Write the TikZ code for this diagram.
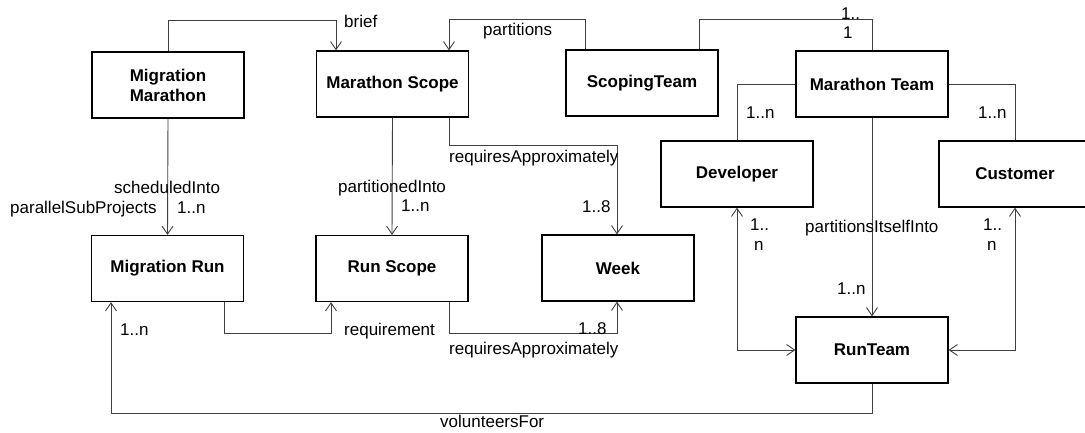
\documentclass[tikz,border=0pt]{standalone}
\usepackage{fontspec}
\setmainfont{Liberation Sans}
\usetikzlibrary{arrows.meta}
\begin{document}
\begin{tikzpicture}[x=1pt,y=-1pt,
  font=\fontsize{17}{19.5}\selectfont,
  box/.style={draw=black, line width=1.3pt, minimum width=152pt, minimum height=66pt,
    inner sep=0pt, align=center, font=\fontsize{17}{20}\selectfont\bfseries},
  conn/.style={draw=black!75, line width=0.9pt},
  tip/.style={-{Straight Barb[length=8pt,width=11pt,line width=0.9pt]}},
  bitip/.style={{Straight Barb[length=8pt,width=11pt,line width=0.9pt]}-{Straight Barb[length=8pt,width=11pt,line width=0.9pt]}},
  lbl/.style={inner sep=0pt, anchor=base west}]
\useasboundingbox (0,0) rectangle (1085,432);
\clip (0,0) rectangle (1085,432);
% boxes
\node[box] (mm) at (168,85) {Migration\\Marathon};
\node[box] (ms) at (392.5,84) {Marathon Scope};
\node[box] (st) at (642,83) {ScopingTeam};
\node[box] (mt) at (872,84) {Marathon Team};
\node[box] (dev) at (737,174) {Developer};
\node[box] (cust) at (1015,174) {Customer};
\node[box] (mr) at (167.5,268.5) {Migration Run};
\node[box] (rs) at (392,268.5) {Run Scope};
\node[box] (wk) at (618,268) {Week};
\node[box] (rt) at (872,350) {RunTeam};
% connectors
\draw[conn,tip] (mm.north) |- (336,20) -- (336,20 |- ms.north);
\draw[conn,tip] (585,0 |- st.north) |- (449,19) -- (449,19 |- ms.north);
\draw[conn] (699,0 |- st.north) |- (872,19) -- (mt.north);
\draw[conn] (mt.west) -| (dev.north);
\draw[conn] (mt.east) -| (cust.north);
\draw[conn,tip] (mt.south) -- (rt.north);
\draw[conn,bitip] (dev.south) |- (rt.west);
\draw[conn,bitip] (cust.south) |- (rt.east);
\draw[conn,tip] (mm.south) -- (mr.north);
\draw[conn,tip] (ms.south) -- (rs.north);
\draw[conn,tip] (449,0 |- ms.south) |- (617,145) -- (617,145 |- wk.north);
\draw[conn,tip] (224,0 |- mr.south) |- (331,333) -- (331,333 |- rs.south);
\draw[conn,tip] (449,0 |- rs.south) |- (617,333) -- (617,333 |- wk.south);
\draw[conn,tip] (rt.south) |- (111,413) -- (111,413 |- mr.south);
% labels
\node[lbl] (l1) at (344,27) {brief};
\node[lbl] (l2) at (483,35) {partitions};
\node[lbl] (l3) at (841,19) {1..};
\node[lbl] (l4) at (843,38) {1};
\node[lbl] (l5) at (746,118) {1..n};
\node[lbl] (l6) at (978,118) {1..n};
\node[lbl] (l7) at (805,232) {partitionsItselfInto};
\node[lbl] (l8) at (837,294) {1..n};
\node[lbl] (l9) at (750,230) {1..};
\node[lbl] (l10) at (754,250) {n};
\node[lbl] (l11) at (983,230) {1..};
\node[lbl] (l12) at (987,250) {n};
\node[lbl] (l13) at (114,193) {scheduledInto};
\node[lbl] (l14) at (10,213) {parallelSubProjects};
\node[lbl] (l15) at (177,213) {1..n};
\node[lbl] (l16) at (338,192) {partitionedInto};
\node[lbl] (l17) at (401,211) {1..n};
\node[lbl] (l18) at (449,162) {requiresApproximately};
\node[lbl] (l19) at (582,212) {1..8};
\node[lbl] (l20) at (344,335) {requirement};
\node[lbl] (l21) at (578,334) {1..8};
\node[lbl] (l22) at (449,354) {requiresApproximately};
\node[lbl] (l23) at (120,335) {1..n};
\node[lbl] (l24) at (440,427) {volunteersFor};
\end{tikzpicture}
\end{document}
